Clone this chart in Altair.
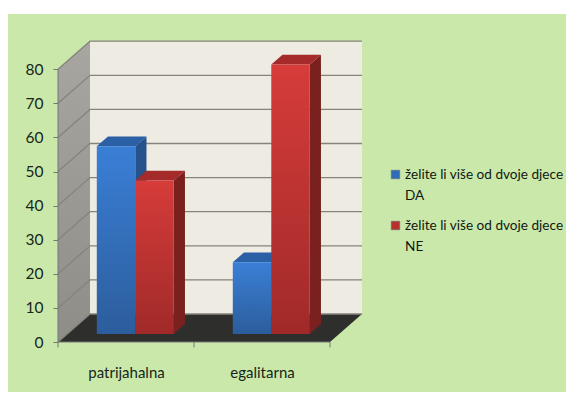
import altair as alt
import pandas as pd

# --- values ---
categories = ["patrijahalna", "egalitarna"]
series = ["želite li više od dvoje djece DA", "želite li više od dvoje djece NE"]
values_da = [55, 21]
values_ne = [45, 79]
y_ticks = [0, 10, 20, 30, 40, 50, 60, 70, 80]
legend_lines_da = ["želite li više od dvoje djece", "DA"]
legend_lines_ne = ["želite li više od dvoje djece", "NE"]

# --- layout ---
W, H = 558, 378
X0_PX, Y0_PX, PX_X, PX_Y = 50, 328, 136.0, 3.41   # plot-space origin and scale
DX = 32 / PX_X      # oblique depth shift on x scale
DY = 28 / PX_Y      # oblique depth shift on y scale
Z0, Z1 = 0.29, 0.64 # bar depth range
BW = 0.283
YMAX = 80
FONT = "Lato"
TXT = "#16261a"

sx = alt.Scale(domain=[-X0_PX / PX_X, (W - X0_PX) / PX_X], nice=False, zero=False, clamp=False)
sy = alt.Scale(domain=[(Y0_PX - H) / PX_Y, Y0_PX / PX_Y], nice=False, zero=False)

xaxis = alt.Axis(values=[0.5, 1.5], labelExpr=f"datum.value == 0.5 ? '{categories[0]}' : '{categories[1]}'",
                 ticks=False, domain=False, grid=False, title=None, offset=-(H - Y0_PX - 30),
                 labelFont=FONT, labelFontSize=15, labelColor=TXT, labelPadding=0, labelBaseline="middle")
yaxis = alt.Axis(values=y_ticks, domain=False, grid=False, title=None, offset=-X0_PX, tickColor="#777777",
                 tickSize=5, labelFont=FONT, labelFontSize=15.5, labelColor=TXT, labelPadding=10, format="d")

X = alt.X("x:Q", scale=sx, axis=xaxis)
Y = alt.Y("y:Q", scale=sy, axis=yaxis, stack=None)


def vert(recs, fill, **kw):
    """parallelogram with vertical parallel sides"""
    return alt.Chart(pd.DataFrame(recs)).mark_area(fill=fill, line=False, **kw).encode(
        x=X, y=Y, y2="y2:Q", detail="id:N")


def horiz(recs, fill, **kw):
    """parallelogram with horizontal parallel sides"""
    return alt.Chart(pd.DataFrame(recs)).mark_area(orient="horizontal", fill=fill, line=False, **kw).encode(
        y=Y, x=X, x2="x2:Q", detail="id:N")


def grad(c1, c2, x1=0, y1=0, x2=0, y2=1):
    return alt.Gradient(gradient="linear", x1=x1, y1=y1, x2=x2, y2=y2,
                        stops=[alt.GradientStop(color=c1, offset=0), alt.GradientStop(color=c2, offset=1)])


layers = []

# back wall
layers.append(alt.Chart(pd.DataFrame([{"x": DX, "x2": 2 + DX, "y": DY, "y2": YMAX + DY}]))
              .mark_rect(fill="#eeebe2").encode(x=X, x2="x2:Q", y=Y, y2="y2:Q"))
# left wall
layers.append(vert([{"id": 0, "x": 0, "y": 0, "y2": YMAX},
                    {"id": 0, "x": DX, "y": DY, "y2": YMAX + DY}],
                   grad("#a8a6a0", "#8f8d88")))
# floor
layers.append(horiz([{"id": 0, "y": 0, "x": 0, "x2": 2},
                     {"id": 0, "y": DY, "x": DX, "x2": 2 + DX}], "#2e2e2c"))
# gridlines on back wall and left wall
grid = []
for i, t in enumerate(y_ticks):
    grid.append({"id": i, "x": 0, "y": t})
    grid.append({"id": i, "x": DX, "y": t + DY})
    grid.append({"id": i, "x": 2 + DX, "y": t + DY})
layers.append(alt.Chart(pd.DataFrame(grid)).mark_line(color="#85847c", strokeWidth=1.3).encode(
    x=X, y=Y, detail="id:N", order="x:Q"))

# front axis baseline and vertical axis line
axis_lines = pd.DataFrame([{"id": 0, "x": 0, "y": 0}, {"id": 0, "x": 2, "y": 0},
                           {"id": 1, "x": 0, "y": 0}, {"id": 1, "x": 0, "y": YMAX}])
layers.append(alt.Chart(axis_lines).mark_line(color="#777777", strokeWidth=1).encode(x=X, y=Y, detail="id:N"))
# category ticks
layers.append(alt.Chart(pd.DataFrame({"x": [0, 1, 2], "y": [0, 0, 0], "y2": [-1.6, -1.6, -1.6]}))
              .mark_rule(color="#777777").encode(x=X, y=Y, y2="y2:Q"))

z0x, z1x = Z0 * DX, Z1 * DX
z0y, z1y = Z0 * DY, Z1 * DY
styles = [
    (values_da, -1, "#26538c", "#2b5fa6", grad("#3a7fd6", "#2c5d9c")),
    (values_ne, 0, "#7a2120", "#a42b29", grad("#d63c3a", "#a02a29")),
]
for vals, off, side, top, front in styles:
    sides, tops, fronts = [], [], []
    for i, v in enumerate(vals):
        left = i + 0.5 + off * BW + z0x
        right = left + BW
        base = z0y
        h = v + z0y
        sides += [{"id": i, "x": right, "y": base, "y2": h},
                  {"id": i, "x": right + z1x - z0x, "y": base + z1y - z0y, "y2": h + z1y - z0y}]
        tops += [{"id": i, "y": h, "x": left, "x2": right},
                 {"id": i, "y": h + z1y - z0y, "x": left + z1x - z0x, "x2": right + z1x - z0x}]
        fronts.append({"x": left, "x2": right, "y": base, "y2": h})
    layers.append(vert(sides, side))
    layers.append(horiz(tops, top))
    layers.append(alt.Chart(pd.DataFrame(fronts)).mark_bar(fill=front, stroke=None).encode(
        x=X, x2="x2:Q", y=Y, y2="y2:Q"))

# legend
lx = (395.5 - 8 - X0_PX) / PX_X
ltx = (405 - 8 - X0_PX) / PX_X


def ly(p):
    return (342 - p) / PX_Y


leg_sym = pd.DataFrame({"x": [lx, lx], "y": [ly(174.5), ly(225.5)], "c": ["#2f6db8", "#b8302e"]})
layers.append(alt.Chart(leg_sym).mark_square(size=72, opacity=1, stroke="#5b6f78", strokeWidth=0.6).encode(
    x=X, y=Y, fill=alt.Fill("c:N", scale=None)))
leg_txt = pd.DataFrame({
    "x": [ltx] * 4,
    "y": [ly(175), ly(196), ly(226), ly(247)],
    "t": legend_lines_da + legend_lines_ne,
})
layers.append(alt.Chart(leg_txt).mark_text(align="left", baseline="middle", font=FONT, fontSize=13.6, color="#101810")
              .encode(x=X, y=Y, text="t:N"))

chart = alt.layer(*layers).properties(
    width=W, height=H,
    background="white",
    padding={"left": 0, "top": 6, "right": 0, "bottom": 0},
    autosize=alt.AutoSizeParams(type="none"),
).configure_view(fill="#cbe8ab", stroke=None)

chart.save("out.html", embed_options={"renderer": "svg", "actions": False})
